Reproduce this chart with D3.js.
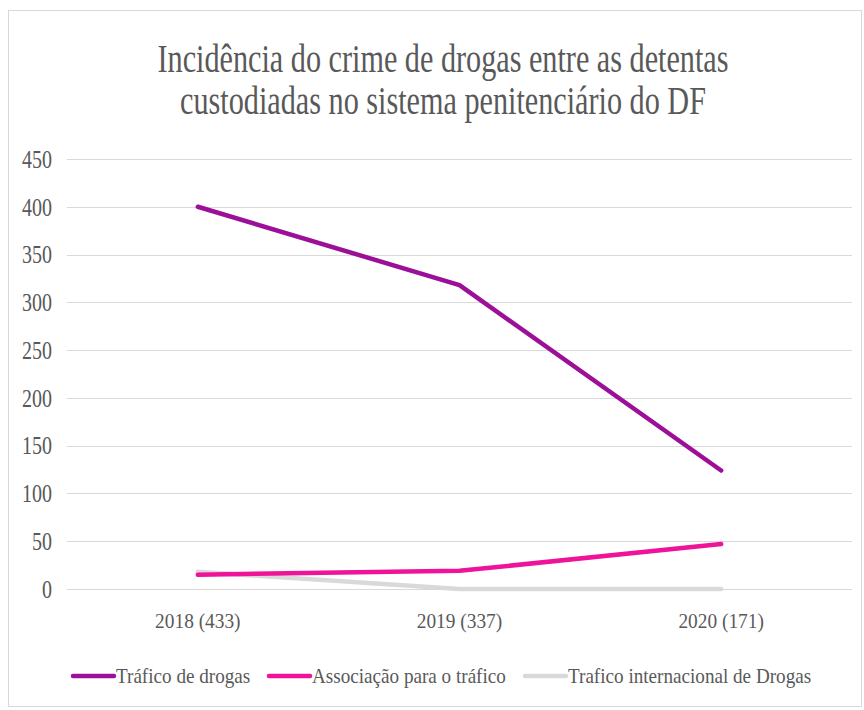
<!DOCTYPE html>
<html><head><meta charset="utf-8">
<script src="https://cdn.jsdelivr.net/npm/d3@7/dist/d3.min.js"></script>
<style>body{margin:0;background:#fff}svg{display:block}</style>
</head><body>
<svg id="c" width="864" height="710"></svg>
<script>
const categories = ["2018 (433)", "2019 (337)", "2020 (171)"];
const seriesNames = ["Tráfico de drogas", "Associação para o tráfico", "Trafico internacional de Drogas"];
const trafico = [400, 318, 124];
const associacao = [15, 19, 47];
const internacional = [18, 0, 0];
const yTicks = [0, 50, 100, 150, 200, 250, 300, 350, 400, 450];
const colors = ["#9c0f98", "#ee1399", "#d9d9d9"];
const titleLines = ["Incidência do crime de drogas entre as detentas", "custodiadas no sistema penitenciário do DF"];

const series = [trafico, associacao, internacional];
const svg = d3.select("#c");
const FONT = "'Liberation Serif', 'DejaVu Serif', serif";
const TXT = "#595959";

svg.append("rect").attr("x",8.5).attr("y",10.5).attr("width",853).attr("height",696)
  .attr("fill","#fff").attr("stroke","#d9d9d9").attr("stroke-width",1);

const x = d3.scaleBand().domain(categories).range([67, 852]);
const y = d3.scaleLinear().domain([0, 450]).range([589, 159]);

// title
svg.selectAll("text.title").data(titleLines).join("text").attr("class","title")
  .attr("transform", (d,i)=>`translate(443,${72 + i*42}) scale(0.755,1)`).attr("text-anchor","middle")
  .attr("font-family", FONT).attr("font-size", 40).attr("fill", TXT).text(d=>d);

// gridlines
svg.append("g").selectAll("line").data(yTicks).join("line")
  .attr("x1", 67).attr("x2", 852).attr("y1", d=>Math.round(y(d))+0.5).attr("y2", d=>Math.round(y(d))+0.5)
  .attr("stroke","#d9d9d9").attr("stroke-width",1);

// y axis
const ya = svg.append("g").attr("transform","translate(52,0)")
  .call(d3.axisLeft(y).tickValues(yTicks).tickSize(0).tickPadding(0));
ya.select(".domain").remove();
ya.selectAll("text").attr("x",0).attr("font-family",FONT).attr("font-size",25).attr("fill",TXT)
  .attr("dy","0.33em").attr("transform","scale(0.8,1)");

// x axis
const xa = svg.append("g").attr("transform","translate(0,589)")
  .call(d3.axisBottom(x).tickSize(0).tickPadding(0));
xa.select(".domain").remove();
xa.selectAll("text").attr("x",0).attr("font-family",FONT).attr("font-size",22).attr("fill",TXT)
  .attr("y",39).attr("dy",0).attr("transform","scale(0.88,1)");

// lines
const line = d3.line().x((d,i)=>x(categories[i]) + x.bandwidth()/2).y(d=>y(d));
[2,1,0].forEach(k=>{
  svg.append("path").datum(series[k]).attr("d", line).attr("fill","none")
    .attr("stroke", colors[k]).attr("stroke-width", 4.5).attr("stroke-linecap","round").attr("stroke-linejoin","round");
});

// legend
const legX = [73, 269, 525];
const lg = svg.append("g");
seriesNames.forEach((n,i)=>{
  lg.append("line").attr("x1", legX[i]).attr("x2", legX[i]+41).attr("y1",676).attr("y2",676)
    .attr("stroke", colors[i]).attr("stroke-width",4.5).attr("stroke-linecap","round");
  lg.append("text").attr("transform", `translate(${legX[i]+43},683) scale(0.87,1)`)
    .attr("font-family",FONT).attr("font-size",22).attr("fill",TXT).text(n);
});
</script>
</body></html>
